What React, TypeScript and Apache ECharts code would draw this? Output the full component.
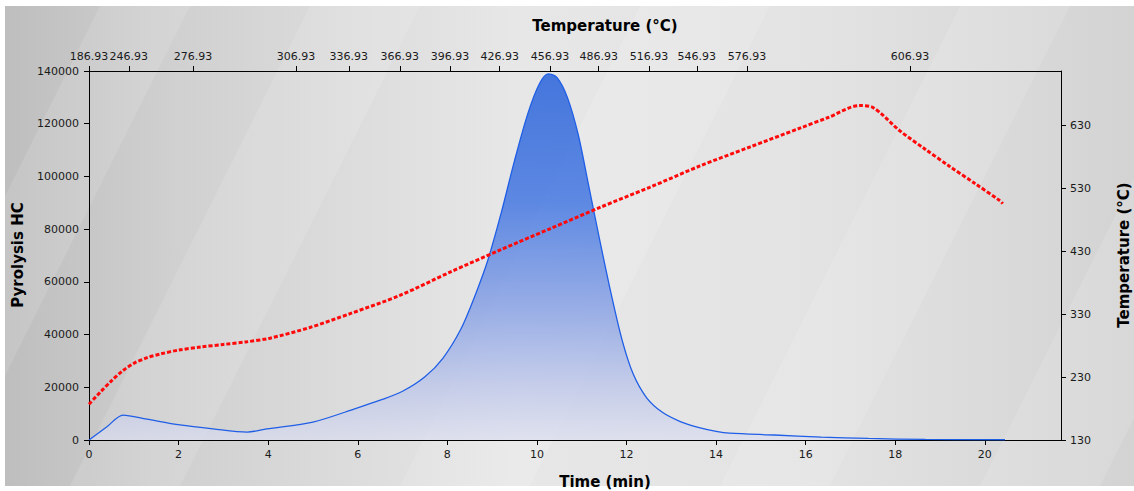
import React, { useEffect, useRef } from "react";
import * as echarts from "echarts";

// Pyrolysis HC (blue) — time (min) / signal
const hcTime = [0, 0.4, 0.76, 1.29, 2.03, 2.77, 3.53, 3.97, 5.0, 5.98, 6.5, 7.0, 7.5, 7.9, 8.3, 8.6, 8.9, 9.2, 9.5, 9.8, 10.05, 10.25, 10.45, 10.68, 10.92, 11.15, 11.4, 11.65, 11.9, 12.15, 12.45, 12.8, 13.2, 13.6, 14.0, 14.3, 15.3, 16.35, 17.4, 18.67, 20.45];
const hcValue = [0, 5000, 9460, 7900, 5700, 4200, 3000, 4200, 6800, 12100, 15100, 18500, 24000, 31000, 42000, 54000, 68000, 86000, 106000, 124000, 135000, 138900, 137500, 130000, 116000, 97000, 76000, 56000, 38000, 25000, 16000, 10500, 7000, 4800, 3300, 2600, 1900, 1100, 600, 200, 100];

// Temperature (red) — time (min) / °C
const tempTime = [0, 0.25, 0.5, 0.75, 1.0, 1.3, 1.6, 2.0, 2.5, 3.0, 3.5, 4.04, 4.93, 5.83, 6.94, 8.06, 9.17, 10.29, 11.41, 12.52, 13.64, 14.75, 15.87, 16.5, 17.2, 17.5, 18.1, 18.66, 19.2, 19.78, 20.33, 20.4];
const tempValue = [187, 206, 224, 240, 252, 261, 267, 273, 278, 282, 286, 292, 309, 331, 360, 397, 432, 466, 500, 532, 566, 596, 626, 643, 662, 659, 622, 593, 566, 538, 511, 506];

// Axis ticks
const timeTicks = [0, 2, 4, 6, 8, 10, 12, 14, 16, 18, 20];
const hcTicks = [0, 20000, 40000, 60000, 80000, 100000, 120000, 140000];
const tempTicks = [130, 230, 330, 430, 530, 630];
const topTickTimes = [0, 0.89, 2.32, 4.62, 5.8, 6.94, 8.06, 9.17, 10.29, 11.38, 12.5, 13.57, 14.69, 18.33];
const topTickLabels = ["186.93", "246.93", "276.93", "306.93", "336.93", "366.93", "396.93", "426.93", "456.93", "486.93", "516.93", "546.93", "576.93", "606.93"];

const FONT = "DejaVu Sans";

export default function App() {
  const ref = useRef<HTMLDivElement>(null);
  useEffect(() => {
    document.body.style.margin = "0";
    const chart = echarts.init(ref.current!, undefined, { renderer: "svg" });
    const axisLine = { show: true, onZero: false, lineStyle: { color: "#000", width: 1 } };
    const axisTick = { show: true, length: 5, lineStyle: { color: "#000" } };
    const labelStyle = { fontFamily: FONT, fontSize: 11, color: "#1a1a1a" };

    const stripes: any[] = [];
    const bands = [[-140, 90], [70, 110], [400, 130], [720, 110], [980, 120]];
    bands.forEach(([b, w]) => {
      stripes.push({
        type: "polygon",
        z: -90,
        silent: true,
        shape: { points: [[b, 486], [b + w, 486], [b + w + 240, 6], [b + 240, 6]] },
        style: { fill: "rgba(255,255,255,0.12)" },
      });
    });

    const titleStyle = { fontFamily: FONT, fontSize: 15, fontWeight: "bold", fill: "#000" };

    chart.setOption({
      animation: false,
      backgroundColor: "#ffffff",
      grid: { left: 89, right: 73, top: 71, bottom: 51, containLabel: false },
      graphic: [
        {
          type: "rect",
          z: -100,
          silent: true,
          shape: { x: 5, y: 6, width: 1129, height: 480 },
          style: {
            fill: new echarts.graphic.LinearGradient(0, 0, 1, 0, [
              { offset: 0, color: "#bebebe" },
              { offset: 0.15, color: "#d0d0d0" },
              { offset: 0.45, color: "#e7e7e7" },
              { offset: 0.72, color: "#e3e3e3" },
              { offset: 1, color: "#d3d3d3" },
            ]),
          },
        },
        ...stripes,
        { type: "text", x: 605, y: 26, style: { ...titleStyle, text: "Temperature (°C)", align: "center", verticalAlign: "middle" } },
        { type: "text", x: 605, y: 482, style: { ...titleStyle, text: "Time (min)", align: "center", verticalAlign: "middle" } },
        { type: "text", x: 18, y: 255, rotation: Math.PI / 2, style: { ...titleStyle, text: "Pyrolysis HC", align: "center", verticalAlign: "middle" } },
        { type: "text", x: 1124, y: 255, rotation: Math.PI / 2, style: { ...titleStyle, text: "Temperature (°C)", align: "center", verticalAlign: "middle" } },
      ],
      xAxis: [
        {
          type: "value",
          position: "bottom",
          min: 0,
          max: 21.7,
          axisLine,
          axisTick: { ...axisTick, customValues: timeTicks },
          axisLabel: { ...labelStyle, margin: 9, customValues: timeTicks },
          splitLine: { show: false },
        },
        {
          type: "value",
          position: "top",
          min: 0,
          max: 21.7,
          axisLine,
          axisTick: { ...axisTick, customValues: topTickTimes },
          axisLabel: {
            ...labelStyle,
            margin: 9,
            customValues: topTickTimes,
            formatter: (v: number) => {
              const i = topTickTimes.findIndex((t) => Math.abs(t - v) < 1e-6);
              return i >= 0 ? topTickLabels[i] : "";
            },
          },
          splitLine: { show: false },
        },
      ],
      yAxis: [
        {
          type: "value",
          position: "left",
          min: 0,
          max: 140000,
          axisLine,
          axisTick: { ...axisTick, customValues: hcTicks },
          axisLabel: { ...labelStyle, margin: 10, customValues: hcTicks, formatter: (v: number) => String(v) },
          splitLine: { show: false },
        },
        {
          type: "value",
          position: "right",
          min: 130,
          max: 717,
          axisLine,
          axisTick: { ...axisTick, customValues: tempTicks },
          axisLabel: { ...labelStyle, margin: 9, customValues: tempTicks, formatter: (v: number) => String(v) },
          splitLine: { show: false },
        },
      ],
      series: [
        {
          type: "line",
          xAxisIndex: 0,
          yAxisIndex: 0,
          data: hcTime.map((t, i) => [t, hcValue[i]]),
          smooth: 0.3,
          symbol: "none",
          lineStyle: { color: "#1f5ee6", width: 1.3 },
          areaStyle: {
            color: new echarts.graphic.LinearGradient(0, 0, 0, 1, [
              { offset: 0, color: "#0046d8" },
              { offset: 0.35, color: "#2260e0" },
              { offset: 0.62, color: "#7090e4" },
              { offset: 0.85, color: "#b6c1ea" },
              { offset: 1, color: "rgba(218,221,240,0.95)" },
            ]),
          },
          z: 2,
        },
        {
          type: "line",
          xAxisIndex: 0,
          yAxisIndex: 1,
          data: tempTime.map((t, i) => [t, tempValue[i]]),
          smooth: 0.3,
          symbol: "none",
          lineStyle: { color: "#ff0a0a", width: 3, type: [4, 2] },
          z: 3,
        },
      ],
    });
    return () => chart.dispose();
  }, []);
  return <div ref={ref} style={{ width: 1134, height: 491 }} />;
}
